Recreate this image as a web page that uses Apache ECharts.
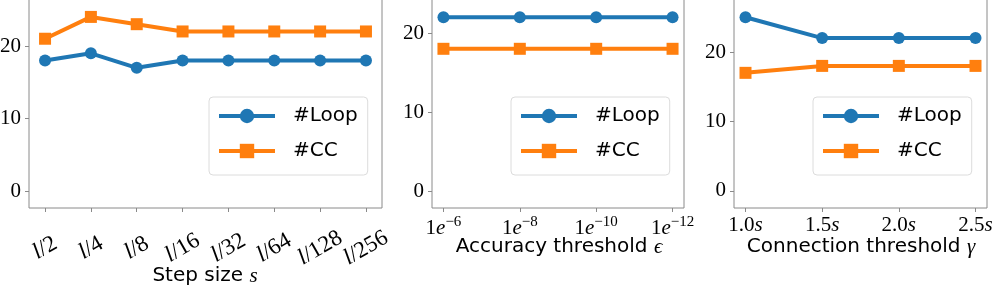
<!DOCTYPE html>
<html><head><meta charset="utf-8">
<script src="https://cdn.jsdelivr.net/npm/echarts@6/dist/echarts.min.js"></script>
<style>html,body{margin:0;padding:0;background:#fff}#c{width:996px;height:290px}</style>
</head><body><div id="c"></div>
<script>
// ---- data ----
const stepLabels = ['2','4','8','16','32','64','128','256'];
const stepLoop = [18,19,17,18,18,18,18,18];
const stepCC   = [21,24,23,22,22,22,22,22];
const accExps = ['6','8','10','12'];
const accLoop = [22,22,22,22];
const accCC   = [18,18,18,18];
const connLabels = ['1.0','1.5','2.0','2.5'];
const connLoop = [25,22,22,22];
const connCC   = [17,18,18,18];
const yTicks = [0,10,20];
const axisTitles = ['{t|Step size }{m|s}', '{t|Accuracy threshold }{m|ϵ}', '{t|Connection threshold }{m|γ}'];

const BLUE = '#1f77b4', ORANGE = '#ff7f0e', FRAME = '#8a8a8a';
const SERIF = '"Liberation Serif", "DejaVu Serif", serif';
const SANS = '"DejaVu Sans", sans-serif';

function pts(arr){ return arr.map((v,i)=>[i,v]); }
function idx(n){ return Array.from({length:n},(_,i)=>i); }

const grids = [
  {left:29, width:353, top:-2, height:210},
  {left:432, width:252, top:-2, height:210},
  {left:734, width:253, top:-2, height:210}
].map(g=>Object.assign(g,{show:true,borderColor:FRAME,borderWidth:1,backgroundColor:'#fff',
  containLabel:false, outerBoundsMode:'none'}));

const yRanges = [[-2.27,26.6],[-2.15,24.43],[-2.45,27.77]];
const yAxes = yRanges.map((r,k)=>({
  type:'value', gridIndex:k, min:r[0], max:r[1],
  axisLine:{show:false, onZero:false}, splitLine:{show:false},
  axisTick:{show:true, length:4, lineStyle:{color:FRAME}, customValues:yTicks},
  axisLabel:{customValues:yTicks, margin:8, fontFamily:SERIF, fontSize:21, color:'#000'}
}));

const rich = {
  n:{fontFamily:SERIF,fontSize:21,color:'#000',verticalAlign:'bottom'},
  i:{fontFamily:SERIF,fontStyle:'italic',fontSize:21,color:'#000',verticalAlign:'bottom'},
  n2:{fontFamily:SERIF,fontSize:23,color:'#000',verticalAlign:'bottom'},
  i2:{fontFamily:SERIF,fontStyle:'italic',fontSize:23,color:'#000',verticalAlign:'bottom'},
  s:{fontFamily:SERIF,fontSize:15,color:'#000',verticalAlign:'bottom',padding:[0,0,9,0]},
  t:{fontFamily:SANS,fontSize:20,color:'#000'},
  m:{fontFamily:SERIF,fontStyle:'italic',fontSize:21,color:'#000'}
};

const xAxes = [
  {gridIndex:0, min:-0.35, max:7.35, n:8,
   fmt:v=>'{i2|l}{n2|/'+stepLabels[v]+'}', rotate:30, margin:40},
  {gridIndex:1, min:-0.15, max:3.15, n:4,
   fmt:v=>'{n|1}{i|e}{s|−'+accExps[v]+'}', rotate:0, margin:7},
  {gridIndex:2, min:-0.15, max:3.15, n:4,
   fmt:v=>'{n|'+connLabels[v]+'}{i|s}', rotate:0, margin:7}
].map(a=>({
  type:'value', gridIndex:a.gridIndex, min:a.min, max:a.max,
  axisLine:{show:false, onZero:false}, splitLine:{show:false},
  axisTick:{show:true, length:4, lineStyle:{color:FRAME}, customValues:idx(a.n)},
  axisLabel:{customValues:idx(a.n), formatter:a.fmt, rich:rich, rotate:a.rotate, margin:a.margin,
    align:'center', verticalAlign:a.rotate? 'middle':'top'}
}));

// axis titles placed under each plot box
const titlePos = [[205,276],[559,247],[861,247]];
const graphics = axisTitles.map((t,k)=>({
  type:'text', x:titlePos[k][0], y:titlePos[k][1], silent:true,
  style:{text:t, rich:rich, align:'center', verticalAlign:'middle'}
}));

const dataSets = [[stepLoop,stepCC],[accLoop,accCC],[connLoop,connCC]];
const series = [];
dataSets.forEach((d,k)=>{
  series.push({name:'#CC', type:'line', xAxisIndex:k, yAxisIndex:k, data:pts(d[1]),
    symbol:'rect', symbolSize:12, color:ORANGE, lineStyle:{width:4,color:ORANGE},
    itemStyle:{color:ORANGE}, animation:false, z:2});
  series.push({name:'#Loop', type:'line', xAxisIndex:k, yAxisIndex:k, data:pts(d[0]),
    symbol:'circle', symbolSize:12, color:BLUE, lineStyle:{width:4,color:BLUE},
    itemStyle:{color:BLUE}, animation:false, z:3});
});

const legendLefts = [209,511,813];
const legends = legendLefts.map(l=>({
  left:l, top:97, orient:'vertical', data:['#Loop','#CC'],
  itemWidth:56, itemHeight:18, itemGap:15,
  padding:[9,10,14,8], backgroundColor:'rgba(255,255,255,0.8)',
  borderColor:'#dcdcdc', borderWidth:1, borderRadius:4,
  selectedMode:false, lineStyle:{width:4},
  textStyle:{fontFamily:SANS, fontSize:20, color:'#000', lineHeight:20, padding:[0,0,0,13]}
}));

const chart = echarts.init(document.getElementById('c'), null, {renderer:'canvas'});
chart.setOption({animation:false, grid:grids, xAxis:xAxes, yAxis:yAxes, series:series,
  legend:legends, graphic:graphics});
</script></body></html>
